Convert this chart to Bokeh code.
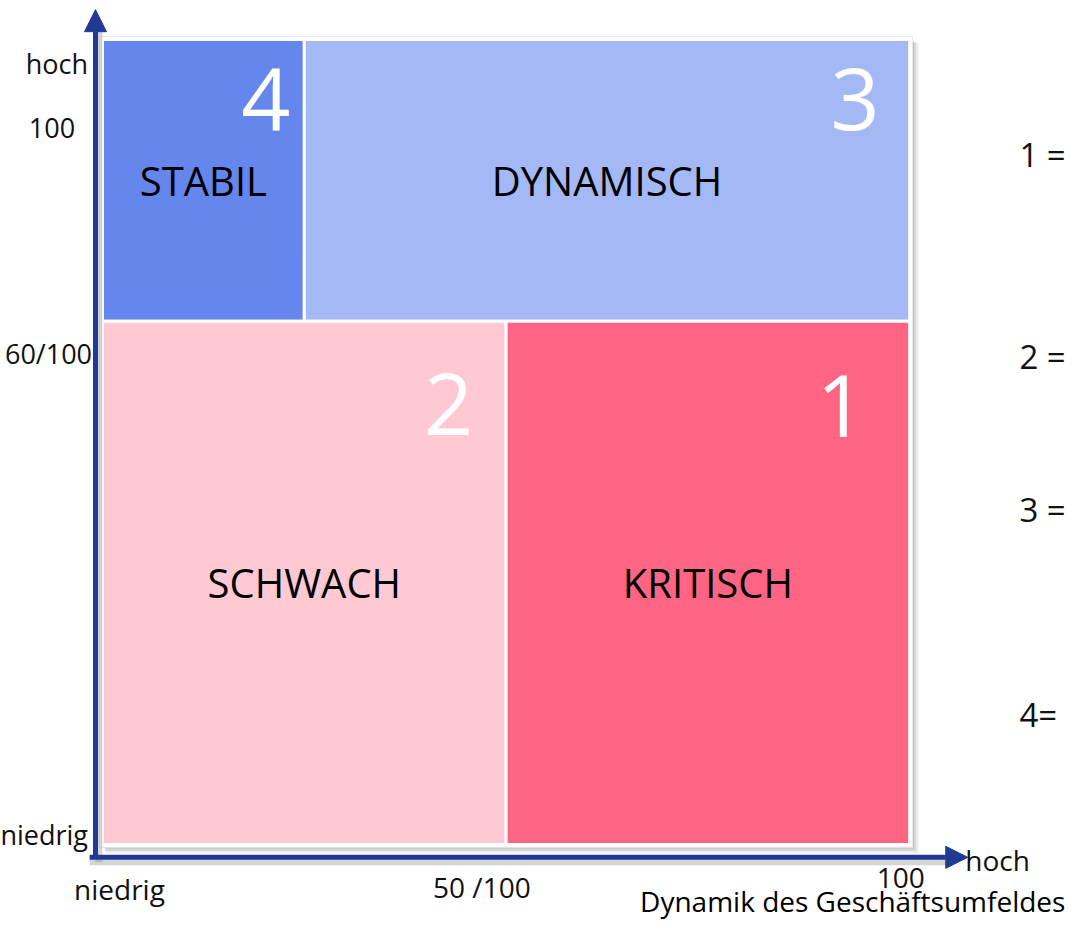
from bokeh.plotting import figure
from bokeh.models import ColumnDataSource, Range1d, Arrow, NormalHead
from bokeh.core.properties import value
from bokeh.embed import file_html
from bokeh.resources import INLINE

# ---- data ----
fields = ["STABIL", "DYNAMISCH", "SCHWACH", "KRITISCH"]
numbers = ["4", "3", "2", "1"]
x_left = [0, 25, 0, 50]
x_right = [25, 100, 50, 100]
y_bottom = [65, 65, 0, 0]
y_top = [100, 100, 65, 65]
colors = ["#6586ED", "#A3B8F5", "#FEC9D3", "#FF6583"]

y_tick_labels = ["hoch", "100", "60/100", "niedrig"]
y_tick_values = [97, 89, 61, 1.2]
x_tick_labels = ["niedrig", "50 /100", "100"]
x_tick_values = [2.1, 47, 98.9]
x_axis_title = "Dynamik des Geschäftsumfeldes"
legend_items = ["1 =", "2 =", "3 =", "4="]
legend_y = [85.7, 60.6, 41.6, 16.1]

FONT = value("Open Sans")
AXIS = "#1F3A93"

p = figure(width=1073, height=922, output_backend="svg", toolbar_location=None,
           x_range=Range1d(-12.64, 120.3), y_range=Range1d(-9.69, 104.84),
           min_border=0, outline_line_color=None)
p.axis.visible = False
p.grid.visible = False
p.background_fill_color = "white"
p.border_fill_color = "white"

# shadow of matrix
for d, a in [(1.1, 0.12), (0.8, 0.18), (0.5, 0.25)]:
    p.quad(left=[min(x_left) + d * 0.4], right=[max(x_right) + d],
           bottom=[min(y_bottom) - d], top=[max(y_top) - d * 0.4],
           fill_color="#707070", fill_alpha=a, line_color=None)
# white frame
p.quad(left=[min(x_left) - 0.35], right=[max(x_right) + 0.35],
       bottom=[min(y_bottom) - 0.35], top=[max(y_top) + 0.35],
       fill_color="white", line_color="#E8E8E8", line_width=1)

src = ColumnDataSource(dict(
    left=x_left, right=x_right, bottom=y_bottom, top=y_top, color=colors,
    name=fields, num=numbers,
    cx=[(a + b) / 2 for a, b in zip(x_left, x_right)],
    cy=[(a + b) / 2 for a, b in zip(y_bottom, y_top)],
    dx=[-14, -30, -33, -44],
    dy=[60, 60, 83, 85],
))
p.quad(left="left", right="right", bottom="bottom", top="top", fill_color="color",
       line_color="white", line_width=3, source=src)
p.text(x="cx", y="cy", text="name", text_align="center", text_baseline="middle",
       text_font=FONT, text_font_size="40px", text_color="black", source=src)
p.text(x="right", y="top", text="num", x_offset="dx", y_offset="dy",
       text_align="right", text_baseline="middle",
       text_font=FONT, text_font_size="86px", text_color="white", source=src)

# axis arrow shadows
p.segment(x0=[-0.45, -1.6], y0=[-2.2, -2.15], x1=[-0.45, 104.5], y1=[101, -2.15],
          line_color="#888888", line_alpha=0.35, line_width=7)
# axis arrows
p.add_layout(Arrow(end=NormalHead(size=22, fill_color=AXIS, line_color=AXIS),
                   x_start=-0.87, y_start=-1.6, x_end=-0.87, y_end=103.7,
                   line_color=AXIS, line_width=5))
p.add_layout(Arrow(end=NormalHead(size=22, fill_color=AXIS, line_color=AXIS),
                   x_start=-1.6, y_start=-1.6, x_end=107.2, y_end=-1.6,
                   line_color=AXIS, line_width=5))

# y tick labels
p.text(x=[-1.8, -3.4, -1.3, -1.8], y=y_tick_values, text=y_tick_labels,
       text_align="right", text_baseline="middle", text_font=FONT,
       text_font_size="27px", text_color="#111111")
# x tick labels
p.text(x=x_tick_values, y=[-5.5, -5.3, -4.2], text=x_tick_labels,
       text_align="center", text_baseline="middle", text_font=FONT,
       text_font_size="28px", text_color="#111111")
p.text(x=[106.9], y=[-1.9], text=["hoch"], text_align="left", text_baseline="middle",
       text_font=FONT, text_font_size="28px", text_color="#111111")
p.text(x=[119.3], y=[-7.0], text=[x_axis_title], text_align="right",
       text_baseline="middle", text_font=FONT, text_font_size="28px",
       text_color="black")
# legend numbers on the right
p.text(x=[113.6] * len(legend_items), y=legend_y, text=legend_items,
       text_align="left", text_baseline="middle", text_font=FONT,
       text_font_size="33px", text_color="#111111")

open("out.html", "w").write(file_html(p, INLINE))
